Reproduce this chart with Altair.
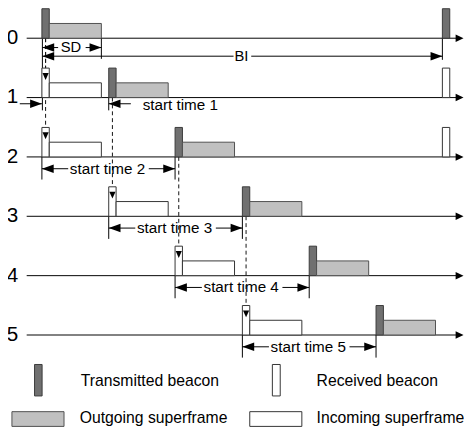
import altair as alt
import pandas as pd

# ---------------- data (time in diagram units, t = 0 at coordinator beacon) -------------
NODES = [0, 1, 2, 3, 4, 5]
NODE_LABELS = ["0", "1", "2", "3", "4", "5"]
TX_START = [0, 68, 135.5, 204, 272, 340]      # transmitted beacon start per node
PARENT = [None, 0, 0, 1, 2, 3]                # node whose beacon is received
BEACON_DUR = 7.5
SD = 60.5                                     # superframe duration (beacon + active part)
BI = 407.5                                    # beacon interval
NEXT_BEACON_RX = [1, 2]                       # nodes that show the coordinator's next beacon
LEGEND_LABELS = ["Transmitted beacon", "Received beacon",
                 "Outgoing superframe", "Incoming superframe"]

# ---------------- layout ----------------
ROW0, ROW_GAP = 35, 60.4
BEACON_H, SF_H = 30, 15
T0 = 42.5                                     # screen x of t = 0


def base(r):
    return ROW0 + ROW_GAP * r


def t_of(px):
    return px - T0


# rectangles: beacons and superframes
rects = []
for n in NODES:
    b, s = base(n), TX_START[n]
    rects.append(dict(t1=s, t2=s + BEACON_DUR, y1=b - BEACON_H, y2=b, kind="tx"))
    rects.append(dict(t1=s + BEACON_DUR, t2=s + SD, y1=b - SF_H, y2=b, kind="out"))
    p = PARENT[n]
    if p is not None:
        ps = TX_START[p]
        rects.append(dict(t1=ps, t2=ps + BEACON_DUR, y1=b - BEACON_H, y2=b, kind="rx"))
        rects.append(dict(t1=ps + BEACON_DUR, t2=ps + SD, y1=b - SF_H, y2=b, kind="in"))
rects.append(dict(t1=BI, t2=BI + BEACON_DUR, y1=base(0) - BEACON_H, y2=base(0), kind="tx"))
for n in NEXT_BEACON_RX:
    rects.append(dict(t1=BI, t2=BI + BEACON_DUR, y1=base(n) - BEACON_H, y2=base(n), kind="rx"))
# legend icons
rects += [
    dict(t1=t_of(35), t2=t_of(42.7), y1=367, y2=399, kind="tx"),
    dict(t1=t_of(277), t2=t_of(285), y1=367, y2=399, kind="rx"),
    dict(t1=t_of(12), t2=t_of(65), y1=415, y2=430, kind="out"),
    dict(t1=t_of(254), t2=t_of(307), y1=415, y2=430, kind="in"),
]
rects = pd.DataFrame(rects)

# solid line segments (row axes, dimension lines, extension lines)
segs = []
arrows = []
for n in NODES:
    segs.append(dict(t1=t_of(27), t2=t_of(465), y1=base(n), y2=base(n)))
    arrows.append(dict(t=t_of(471.5), y=base(n), dir="axis"))

texts_c = []
texts_l = []
for n in NODES:
    texts_c.append(dict(t=t_of(12.5), y=base(n), label=NODE_LABELS[n], fs=21))


def dim(l, r, y, label, gap, fs):
    c = (l + r) / 2
    segs.append(dict(t1=l, t2=c - gap, y1=y, y2=y))
    segs.append(dict(t1=c + gap, t2=r, y1=y, y2=y))
    arrows.append(dict(t=l, y=y, dir="left"))
    arrows.append(dict(t=r, y=y, dir="right"))
    texts_c.append(dict(t=c - 1, y=y, label=label, fs=fs))


dim(0.5, SD, 44.5, "SD", 14, 15)
dim(0.5, BI, 53.3, "BI", 9, 15)
for n in NODES[2:]:
    p = PARENT[n]
    y = base(n) + 12
    dim(TX_START[p], TX_START[n], y, f"start time {n}", 41, 15.5)
    segs.append(dict(t1=TX_START[p], t2=TX_START[p], y1=base(n), y2=base(n) + 23))
    segs.append(dict(t1=TX_START[n], t2=TX_START[n], y1=base(n), y2=base(n) + 23))

# start time 1 (arrows drawn outside)
y1 = base(1) + 6.3
segs.append(dict(t1=t_of(20), t2=0, y1=y1, y2=y1))
arrows.append(dict(t=0, y=y1, dir="right"))
segs.append(dict(t1=TX_START[1], t2=t_of(133), y1=y1, y2=y1))
arrows.append(dict(t=TX_START[1], y=y1, dir="left"))
texts_l.append(dict(t=t_of(145), y=y1 + 1, label="start time 1", fs=15.5))
segs.append(dict(t1=TX_START[1], t2=TX_START[1], y1=base(1), y2=base(1) + 13))

# extension lines of SD / BI
segs.append(dict(t1=0.5, t2=0.5, y1=base(0), y2=base(1) + 13))
segs.append(dict(t1=SD, t2=SD, y1=base(0), y2=56))
segs.append(dict(t1=BI, t2=BI, y1=base(0), y2=57))

# dashed propagation lines + arrows in received beacons
dashes = []
for n in NODES:
    p = PARENT[n]
    if p is None:
        continue
    x = TX_START[p] + BEACON_DUR / 2
    dashes.append(dict(t1=x, t2=x, y1=base(p) - BEACON_H + 2, y2=base(n)))
    arrows.append(dict(t=x, y=base(n) - BEACON_H + 12, dir="down"))

# legend texts
texts_l += [
    dict(t=t_of(82), y=384, label=LEGEND_LABELS[0], fs=16),
    dict(t=t_of(322), y=384, label=LEGEND_LABELS[1], fs=16),
    dict(t=t_of(81), y=422, label=LEGEND_LABELS[2], fs=16),
    dict(t=t_of(322), y=422, label=LEGEND_LABELS[3], fs=16),
]

segs = pd.DataFrame(segs)
arrows = pd.DataFrame(arrows)
dashes = pd.DataFrame(dashes)
texts_c = pd.DataFrame(texts_c)
texts_l = pd.DataFrame(texts_l)

# ---------------- chart ----------------
W, H = 464, 427
xs = alt.Scale(domain=[t_of(8), t_of(472)], nice=False, zero=False)
ys = alt.Scale(domain=[8, 435], reverse=True, nice=False, zero=False)
X = lambda f: alt.X(f, type="quantitative", scale=xs, axis=None)
Y = lambda f: alt.Y(f, type="quantitative", scale=ys, axis=None)

rect_layer = alt.Chart(rects).mark_rect(strokeWidth=1).encode(
    x=X("t1"), x2="t2", y=Y("y1"), y2="y2",
    fill=alt.Fill("kind:N", legend=None, scale=alt.Scale(
        domain=["tx", "out", "rx", "in"],
        range=["#707070", "#c0c0c0", "#ffffff", "#ffffff"])),
    stroke=alt.Stroke("kind:N", legend=None, scale=alt.Scale(
        domain=["tx", "out", "rx", "in"],
        range=["#3a3a3a", "#505050", "#333333", "#333333"])),
)

seg_layer = alt.Chart(segs).mark_rule(color="black", strokeWidth=1).encode(
    x=X("t1"), x2="t2", y=Y("y1"), y2="y2")

dash_layer = alt.Chart(dashes).mark_rule(color="#111111", strokeWidth=1, strokeDash=[4, 3]).encode(
    x=X("t1"), x2="t2", y=Y("y1"), y2="y2")

SHAPES = {
    "right": ("M0,0L-1,-0.36L-1,0.36Z", 576),
    "left": ("M0,0L1,-0.36L1,0.36Z", 576),
    "axis": ("M0,0L-1,-0.48L-1,0.48Z", 256),
    "down": ("M0,0L-0.45,-1L0.45,-1Z", 196),
}
arrow_layers = [
    alt.Chart(arrows).transform_filter(alt.datum.dir == d).mark_point(
        shape=path, size=size, filled=True, color="black", opacity=1, strokeWidth=0
    ).encode(x=X("t"), y=Y("y"))
    for d, (path, size) in SHAPES.items()
]

text_c = alt.Chart(texts_c).mark_text(
    font="Liberation Sans", align="center", baseline="middle", color="black"
).encode(x=X("t"), y=Y("y"), text="label:N", size=alt.Size("fs:Q", scale=None))

text_l = alt.Chart(texts_l).mark_text(
    font="Liberation Sans", align="left", baseline="middle", color="black"
).encode(x=X("t"), y=Y("y"), text="label:N", size=alt.Size("fs:Q", scale=None))

chart = alt.layer(
    seg_layer, dash_layer, rect_layer, *arrow_layers, text_c, text_l
).properties(
    width=W, height=H, autosize=alt.AutoSizeParams(type="none"), padding=0
).configure_view(stroke=None)

chart.save("out.html", embed_options={"renderer": "svg", "actions": False})
